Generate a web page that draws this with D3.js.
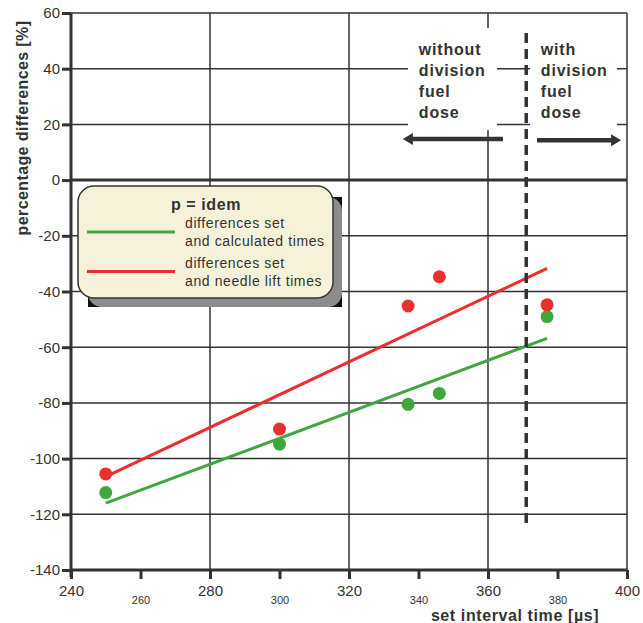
<html>
<head>
    <meta charset="utf-8">
    <script src="https://d3js.org/d3.v7.min.js"></script>
    <style>
        body { margin: 0; background: #fff; }
        text { font-family: "Liberation Sans", Arial, sans-serif; fill: #333; }
    </style>
</head>
<body>
    <svg id="chart"></svg>
    <script>
        // data
        var xMajor = [240, 280, 320, 360, 400];
        var xMinor = [260, 300, 340, 380];
        var yTicks = [-140, -120, -100, -80, -60, -40, -20, 0, 20, 40, 60];
        var setTimes = [250, 300, 337, 346, 377];
        var calcDiff = [-112.2, -94.8, -80.5, -76.6, -49.0];
        var liftDiff = [-105.5, -89.4, -45.2, -34.7, -44.8];
        var calcTrend = [[250, -116.0], [377, -56.8]];
        var liftTrend = [[250, -106.5], [377, -31.7]];
        var splitTime = 371;
        var leftNote = ["without", "division", "fuel", "dose"];
        var rightNote = ["with", "division", "fuel", "dose"];
        var legendTitle = "p = idem";
        var legendItems = [
            { lines: ["differences set", "and calculated times"], color: "#3ea83e" },
            { lines: ["differences set", "and needle lift times"], color: "#e8312f" }
        ];

        var W = 643, H = 623;
        var green = "#3ea83e", red = "#e8312f", ink = "#333";
        var font = "'Liberation Sans', Arial, sans-serif";

        var svg = d3.select("#chart").attr("width", W).attr("height", H);
        var x = d3.scaleLinear().domain([240, 400]).range([71, 627]);
        var y = d3.scaleLinear().domain([-140, 60]).range([570, 13]);

        // grid
        var grid = svg.append("g");
        grid.selectAll(".hg").data(yTicks.filter(function(d){ return d > -140; }))
            .enter().append("line")
            .attr("x1", x(240)).attr("x2", x(400))
            .attr("y1", function(d){ return y(d); }).attr("y2", function(d){ return y(d); })
            .attr("stroke", ink).attr("stroke-width", function(d){ return d === 0 ? 3 : 1.5; });
        grid.selectAll(".vg").data(xMajor.filter(function(d){ return d > 240; }))
            .enter().append("line")
            .attr("y1", y(60)).attr("y2", y(-140))
            .attr("x1", function(d){ return x(d); }).attr("x2", function(d){ return x(d); })
            .attr("stroke", ink).attr("stroke-width", 1.5);

        // white patches behind the notes
        svg.append("rect").attr("x", x(337)).attr("y", y(54.6))
            .attr("width", x(362.6) - x(337)).attr("height", y(18) - y(54.6)).attr("fill", "#fff");
        svg.append("rect").attr("x", x(372.1)).attr("y", y(54.6))
            .attr("width", x(397.1) - x(372.1)).attr("height", y(18) - y(54.6)).attr("fill", "#fff");

        // axes
        var yAxis = svg.append("g").attr("transform", "translate(" + x(240) + ",0)")
            .call(d3.axisLeft(y).tickValues(yTicks).tickSize(9).tickSizeOuter(0).tickPadding(2)
                .tickFormat(function(d){ return String(d); }));
        yAxis.select(".domain").remove();
        yAxis.selectAll(".tick line").attr("stroke", ink).attr("stroke-width", 3);
        yAxis.selectAll(".tick text").style("font-size", "15px").attr("fill", ink)
            .style("font-family", font);
        svg.append("line").attr("x1", x(240)).attr("x2", x(240))
            .attr("y1", y(60)).attr("y2", y(-140) + 7)
            .attr("stroke", ink).attr("stroke-width", 3);

        var xAxis = svg.append("g").attr("transform", "translate(0," + y(-140) + ")")
            .call(d3.axisBottom(x).tickValues(xMajor.concat(xMinor)).tickSize(9).tickSizeOuter(0)
                .tickFormat(function(d){ return String(d); }));
        xAxis.select(".domain").remove();
        xAxis.selectAll(".tick line").attr("stroke", ink).attr("stroke-width", 3);
        xAxis.selectAll(".tick text")
            .style("font-family", font).attr("fill", ink)
            .attr("dy", null)
            .style("font-size", function(d){ return xMajor.indexOf(d) >= 0 ? "15px" : "11px"; })
            .attr("y", function(d){ return xMajor.indexOf(d) >= 0 ? 26 : 34; });
        svg.append("line").attr("x1", x(240)).attr("x2", x(400))
            .attr("y1", y(-140)).attr("y2", y(-140))
            .attr("stroke", ink).attr("stroke-width", 3);

        // axis titles
        svg.append("text").attr("transform", "translate(28,128) rotate(-90)")
            .attr("text-anchor", "middle").style("font-size", "16px").style("font-weight", "bold")
            .style("letter-spacing", "0.4px")
            .text("percentage differences [%]");
        svg.append("text").attr("x", 515).attr("y", 621)
            .attr("text-anchor", "middle").style("font-size", "16px").style("font-weight", "bold")
            .style("letter-spacing", "0.6px")
            .text("set interval time [\u00b5s]");

        // legend
        var lg = svg.append("g");
        lg.append("rect").attr("x", 88).attr("y", 197).attr("width", 254).attr("height", 110).attr("fill", "#111");
        lg.append("rect").attr("x", 88).attr("y", 197).attr("width", 254).attr("height", 110)
            .attr("rx", 14).attr("fill", "#8c8c8c");
        lg.append("rect").attr("x", 78).attr("y", 186).attr("width", 255).attr("height", 112)
            .attr("rx", 16).attr("fill", "#f6f2d9").attr("stroke", ink).attr("stroke-width", 1.5);
        lg.append("text").attr("x", 206).attr("y", 210).attr("text-anchor", "middle")
            .style("font-size", "16px").style("font-weight", "bold").style("letter-spacing", "0.6px")
            .text(legendTitle);
        legendItems.forEach(function(it, i)
        {
            var cy = 232 + i * 39.5;
            lg.append("line").attr("x1", 87).attr("x2", 175).attr("y1", cy).attr("y2", cy)
                .attr("stroke", it.color).attr("stroke-width", 3);
            it.lines.forEach(function(s, j)
            {
                lg.append("text").attr("x", 185).attr("y", cy - 4 + j * 18)
                    .style("font-size", "14px").style("letter-spacing", "0.6px").text(s);
            });
        });

        // trend lines
        var line = d3.line().x(function(d){ return x(d[0]); }).y(function(d){ return y(d[1]); });
        svg.append("path").attr("d", line(calcTrend)).attr("stroke", green).attr("stroke-width", 3).attr("fill", "none");
        svg.append("path").attr("d", line(liftTrend)).attr("stroke", red).attr("stroke-width", 3).attr("fill", "none");

        // points
        svg.selectAll(".pc").data(setTimes).enter().append("circle")
            .attr("cx", function(d){ return x(d); })
            .attr("cy", function(d, i){ return y(calcDiff[i]); })
            .attr("r", 6.5).attr("fill", green);
        svg.selectAll(".pl").data(setTimes).enter().append("circle")
            .attr("cx", function(d){ return x(d); })
            .attr("cy", function(d, i){ return y(liftDiff[i]); })
            .attr("r", 6.5).attr("fill", red);

        // split line
        svg.append("line").attr("x1", x(splitTime)).attr("x2", x(splitTime))
            .attr("y1", y(52.8)).attr("y2", y(-124.6))
            .attr("stroke", ink).attr("stroke-width", 3.5).attr("stroke-dasharray", "10,6");

        // arrows
        function arrow(x0, x1, yv)
        {
            var px0 = x(x0), px1 = x(x1), py = y(yv), dir = px1 > px0 ? 1 : -1;
            svg.append("line").attr("x1", px0).attr("x2", px1 - dir * 6)
                .attr("y1", py).attr("y2", py).attr("stroke", ink).attr("stroke-width", 4.5);
            svg.append("path")
                .attr("d", "M" + px1 + "," + py + "L" + (px1 - dir * 10) + "," + (py - 6) +
                    "L" + (px1 - dir * 10) + "," + (py + 6) + "Z")
                .attr("fill", ink);
        }
        arrow(364.3, 335.5, 14.8);
        arrow(374.1, 398.3, 14.3);

        // notes
        function note(lines, xv)
        {
            lines.forEach(function(s, i)
            {
                svg.append("text").attr("x", x(xv)).attr("y", y(44.9) + i * 21)
                    .style("font-size", "16px").style("font-weight", "bold").style("letter-spacing", "0.8px")
                    .text(s);
            });
        }
        note(leftNote, 340.1);
        note(rightNote, 375.2);
    </script>
</body>
</html>
